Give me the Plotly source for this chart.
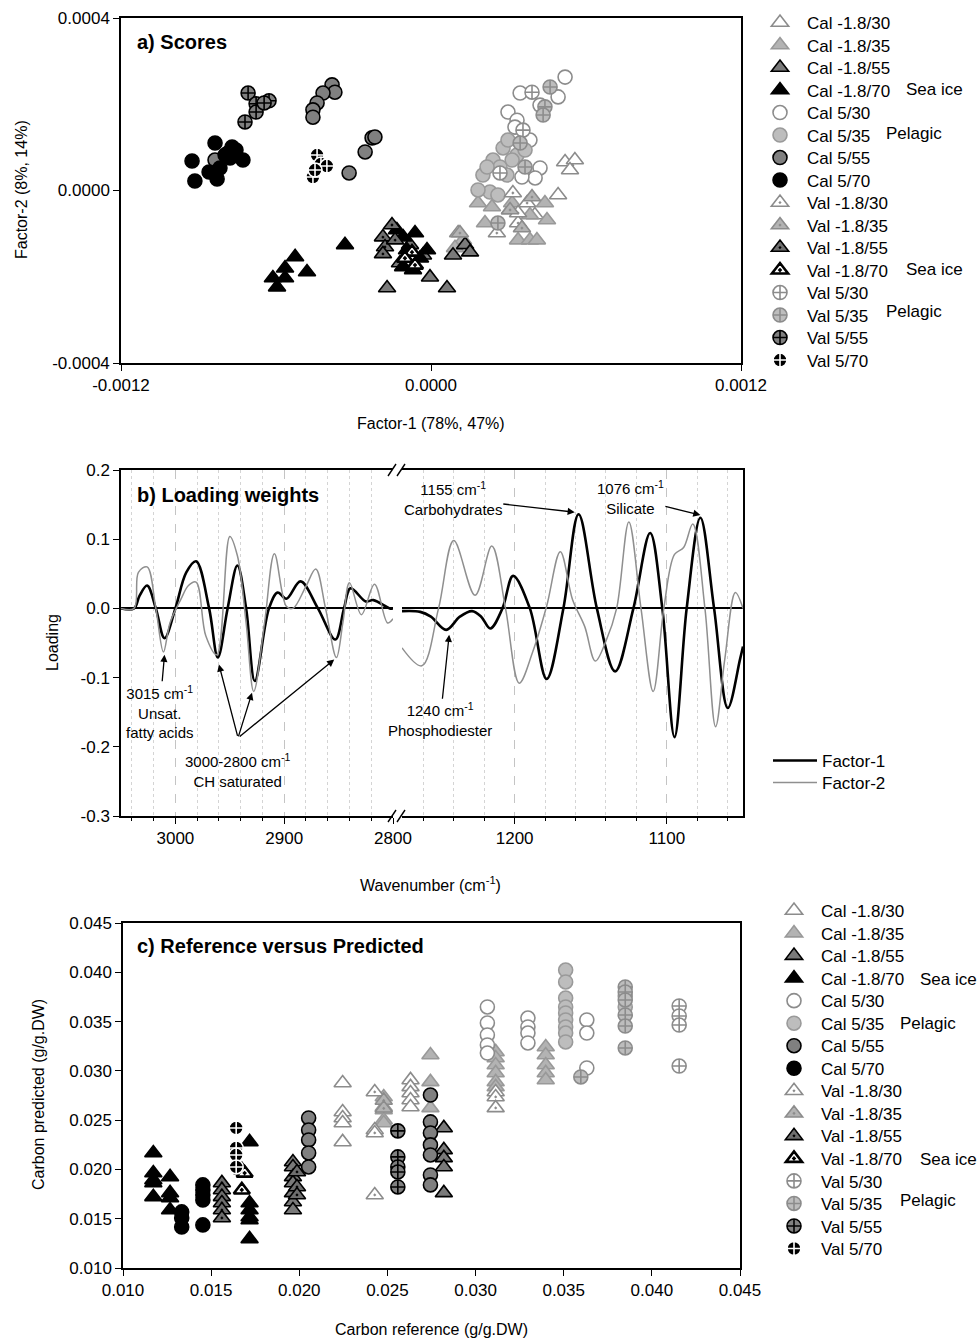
import plotly.graph_objects as go

W, H = 978, 1340
FONT = "Liberation Sans, Arial, sans-serif"

# ---------------- categories ----------------
LABELS = ["Cal -1.8/30", "Cal -1.8/35", "Cal -1.8/55", "Cal -1.8/70",
          "Cal 5/30", "Cal 5/35", "Cal 5/55", "Cal 5/70",
          "Val -1.8/30", "Val -1.8/35", "Val -1.8/55", "Val -1.8/70",
          "Val 5/30", "Val 5/35", "Val 5/55", "Val 5/70"]
SYMBOLS = ["triangle-up", "triangle-up", "triangle-up", "triangle-up",
           "circle", "circle", "circle", "circle",
           "triangle-up-dot", "triangle-up-dot", "triangle-up-dot", "triangle-up-dot",
           "circle-cross", "circle-cross", "circle-cross", "circle-cross"]
FILLS = ["#ffffff", "#b3b3b3", "#7a7a7a", "#000000",
         "#ffffff", "#bdbdbd", "#808080", "#000000",
         "#ffffff", "#b3b3b3", "#6e6e6e", "#ffffff",
         "#ffffff", "#bdbdbd", "#808080", "#000000"]
EDGES = ["#8c8c8c", "#999999", "#000000", "#000000",
         "#8c8c8c", "#9a9a9a", "#000000", "#000000",
         "#8c8c8c", "#8c8c8c", "#000000", "#000000",
         "#8c8c8c", "#8c8c8c", "#000000", "#ffffff"]
EDGE_W = [1.6, 1.6, 1.6, 1.6, 1.6, 1.6, 1.6, 1.6, 1.6, 1.6, 1.6, 2.6, 1.6, 1.6, 1.6, 1.6]
SIZES = [15, 15, 15, 15, 14, 14, 14, 14, 15, 15, 15, 14, 14, 14, 14, 14]

# ---------------- panel a : scores ----------------
A_X = [
    [0.000519, 0.000557, 0.000538, 0.000492, 0.000402, 0.000306],
    [0.000182, 0.000236, 0.000441, 0.000383, 0.000337, 0.000383, 0.000410, 0.000209, 0.000449, 0.000314, 0.000124, 0.0000929],
    [-0.000120, -0.0000039, -0.000170, 0.0000619, 0.0000852, 0.000132, 0.000151, -0.0000310, -0.0000813],
    [-0.000526, -0.000565, -0.000612, -0.000596, -0.000565, -0.000480, -0.000333, -0.000108, -0.0000619, -0.0000929, -0.0000155, -0.000108, -0.0000697, -0.0000426, -0.000132],
    [0.000519, 0.000345, 0.000492, 0.000298, 0.000333, 0.000422, 0.000403, 0.000352, 0.000325, 0.000383, 0.000422],
    [0.000279, 0.000240, 0.000201, 0.000267, 0.000333, 0.000228, 0.000259, 0.000294, 0.000217, 0.000314, 0.000298, 0.000182, 0.000364],
    [-0.000383, -0.000372, -0.000418, -0.000441, -0.000457, -0.000457, -0.000228, -0.000217, -0.000255, -0.000317, -0.000836, -0.000786],
    [-0.000925, -0.000914, -0.000836, -0.000859, -0.000828, -0.000770, -0.000778, -0.000728, -0.000797, -0.000755, -0.000817],
    [0.000105, 0.000317, 0.000372, 0.000337, 0.000255, 0.000337],
    [0.000306, 0.000352, 0.000391, 0.000112],
    [-0.000151, -0.000186, -0.000178, -0.000186, -0.000139],
    [-0.0000735, -0.0000619, -0.000101],
    [0.000391, 0.000356, 0.000267],
    [0.000461, 0.000441, 0.000434, 0.000345, 0.000364, 0.000259],
    [-0.000708, -0.000677, -0.000627, -0.000720, -0.000677, -0.000646],
    [-0.000441, -0.000426, -0.000403, -0.000457, -0.000449],
]
A_Y = [
    [0.0000661, 0.0000707, 0.0000475, -0.0000104, -0.0000568, -0.0000452],
    [-0.0000290, -0.0000383, -0.0000290, -0.0000568, -0.000115, -0.000115, -0.000115, -0.0000754, -0.0000684, -0.0000290, -0.000115, -0.000133],
    [-0.000168, -0.000201, -0.000226, -0.000226, -0.000150, -0.000126, -0.000143, -0.000150, -0.000126],
    [-0.000154, -0.000180, -0.000203, -0.000224, -0.000203, -0.000189, -0.000126, -0.000108, -0.0000986, -0.000138, -0.000138, -0.000177, -0.000184, -0.000157, -0.0000916],
    [0.000263, 0.000226, 0.000217, 0.000182, 0.000163, 0.0000522, 0.0000290, 0.0000313, 0.000147, 0.000117, 0.000198],
    [0.0000986, 0.0000707, 0.0000359, 0.0000545, 0.0000823, -0.0000035, -0.0000104, 0.0000359, 0.0000545, 0.0000707, 0.000117, 0.0000012, 0.0000939],
    [0.000245, 0.000228, 0.000226, 0.000203, 0.000187, 0.000170, 0.000122, 0.000124, 0.0000893, 0.0000406, 0.0000707, 0.0000870],
    [0.0000684, 0.0000220, 0.000110, 0.0000429, 0.0000267, 0.000101, 0.0000754, 0.0000707, 0.0000823, 0.0000939, 0.0000522],
    [-0.0000986, -0.0000058, -0.0000290, -0.0000754, -0.0000986, -0.0000522],
    [-0.0000452, -0.0000870, -0.0000151, -0.0000986],
    [-0.0000800, -0.000108, -0.000131, -0.000147, -0.000115],
    [-0.000143, -0.000173, -0.000157],
    [0.000228, 0.000140, 0.0000406],
    [0.000240, 0.000194, 0.000175, 0.000110, 0.0000545, -0.0000754],
    [0.000226, 0.000201, 0.000208, 0.000159, 0.000182, 0.000203],
    [0.0000823, 0.0000615, 0.0000568, 0.0000313, 0.0000475],
]

# ---------------- panel b : loading weights ----------------
F1_HI_WN = [3050, 3038, 3033, 3026, 3018, 3010, 3000, 2990, 2981, 2969, 2961, 2952, 2943, 2935, 2927,
            2914, 2906, 2898, 2885, 2869, 2853, 2845, 2839, 2825, 2818, 2803, 2800]
F1_HI = [0.0, 0.0, 0.018, 0.033, 0.0, -0.043, 0.0, 0.052, 0.068, 0.0, -0.071, 0.0, 0.062, 0.0, -0.105,
         0.0, 0.023, 0.014, 0.039, 0.0, -0.045, 0.0, 0.029, 0.010, 0.012, 0.0, 0.0]
F2_HI_WN = [3050, 3038, 3034, 3026, 3018, 3011, 3005, 2995, 2988, 2981, 2972, 2962, 2950, 2943, 2935,
            2928, 2918, 2909, 2898, 2892, 2880, 2871, 2862, 2852, 2846, 2840, 2829, 2817, 2805, 2800]
F2_HI = [0.0, 0.0, 0.052, 0.060, 0.0, -0.063, -0.021, 0.013, 0.033, 0.038, -0.040, -0.067, 0.104, 0.076, -0.021,
         -0.120, -0.020, 0.079, 0.003, 0.0, 0.032, 0.057, 0.0, -0.071, -0.020, 0.037, -0.009, 0.035, -0.021, -0.015]
F1_LO_WN = [1274, 1262, 1255, 1245, 1236, 1228, 1222, 1216, 1208, 1201, 1190, 1179, 1168, 1158, 1146, 1134,
            1122, 1111, 1103, 1095, 1087, 1078, 1069, 1060, 1052, 1050]
F1_LO = [-0.004, -0.005, -0.012, -0.031, -0.012, -0.004, -0.012, -0.029, 0.0, 0.047, 0.0, -0.102, 0.0, 0.136, 0.0, -0.091,
         0.0, 0.109, 0.0, -0.186, 0.0, 0.131, 0.0, -0.144, -0.074, -0.055]
F2_LO_WN = [1274, 1261, 1250, 1240, 1226, 1215, 1206, 1197, 1188, 1179, 1170, 1162, 1154, 1147, 1140, 1133,
            1125, 1117, 1109, 1102, 1095, 1089, 1083, 1075, 1068, 1062, 1055, 1050]
F2_LO = [-0.057, -0.083, 0.0, 0.098, 0.019, 0.090, 0.0, -0.108, -0.062, 0.003, 0.082, 0.013, -0.026, -0.076, -0.047, 0.0,
         0.125, 0.0, -0.120, 0.0, 0.078, 0.088, 0.122, 0.0, -0.171, -0.074, 0.023, 0.0]

# ---------------- panel c : reference vs predicted ----------------
C_X = [
    [0.02246, 0.02246, 0.02246, 0.02246, 0.02246, 0.02631, 0.02631, 0.02631, 0.02631, 0.02631],
    [0.02479, 0.02479, 0.02479, 0.02479, 0.02479, 0.02744, 0.02744, 0.02744, 0.03114, 0.03114, 0.03114, 0.03114, 0.03114, 0.03114,
     0.03398, 0.03398, 0.03398, 0.03398, 0.03398],
    [0.01964, 0.01964, 0.01964, 0.01964, 0.01964, 0.01964, 0.01964, 0.02820, 0.02820, 0.02820, 0.02820, 0.02820],
    [0.01172, 0.01172, 0.01172, 0.01172, 0.01172, 0.01267, 0.01267, 0.01267, 0.01267, 0.01718, 0.01718, 0.01718, 0.01718, 0.01718, 0.01718],
    [0.03067, 0.03067, 0.03067, 0.03067, 0.03067, 0.03297, 0.03297, 0.03297, 0.03297, 0.03631, 0.03631, 0.03631],
    [0.03511, 0.03511, 0.03511, 0.03511, 0.03511, 0.03511, 0.03511, 0.03511, 0.03511, 0.03849, 0.03849],
    [0.02053, 0.02053, 0.02053, 0.02053, 0.02053, 0.02744, 0.02744, 0.02744, 0.02744, 0.02744, 0.02744, 0.02744],
    [0.01333, 0.01333, 0.01333, 0.01453, 0.01453, 0.01453, 0.01453, 0.01453],
    [0.02428, 0.02428, 0.02428, 0.02428, 0.03114, 0.03114, 0.03114],
    [0.02479, 0.02479],
    [0.01561, 0.01561, 0.01561, 0.01561, 0.01561, 0.01561, 0.01987, 0.01987, 0.01987],
    [0.01674, 0.01674, 0.01690],
    [0.04155, 0.04155, 0.04155, 0.04155],
    [0.03849, 0.03849, 0.03849, 0.03849, 0.03849, 0.03849, 0.03597],
    [0.02559, 0.02559, 0.02559, 0.02559, 0.02559],
    [0.01642, 0.01642, 0.01642, 0.01642],
]
C_Y = [
    [0.02877, 0.02583, 0.02522, 0.02471, 0.02279, 0.02908, 0.02837, 0.02776, 0.02705, 0.02633],
    [0.02735, 0.02633, 0.02603, 0.02502, 0.02471, 0.03161, 0.02888, 0.02624, 0.03192, 0.03131, 0.03060, 0.02979, 0.02888, 0.02837,
     0.03242, 0.03161, 0.03060, 0.02979, 0.02908],
    [0.02076, 0.02025, 0.01924, 0.01863, 0.01762, 0.01670, 0.01589, 0.02421, 0.02198, 0.02117, 0.02025, 0.01762],
    [0.02167, 0.01964, 0.01893, 0.01863, 0.01722, 0.01924, 0.01762, 0.01711, 0.01589, 0.02279, 0.01660, 0.01589, 0.01518, 0.01488, 0.01295],
    [0.03648, 0.03486, 0.03364, 0.03263, 0.03181, 0.03536, 0.03445, 0.03384, 0.03283, 0.03516, 0.03384, 0.03029],
    [0.04023, 0.03902, 0.03739, 0.03648, 0.03587, 0.03516, 0.03445, 0.03384, 0.03293, 0.03760, 0.03648],
    [0.02522, 0.02400, 0.02299, 0.02167, 0.02025, 0.02755, 0.02482, 0.02370, 0.02249, 0.02147, 0.01944, 0.01843],
    [0.01569, 0.01508, 0.01417, 0.01843, 0.01792, 0.01741, 0.01690, 0.01437],
    [0.02786, 0.02400, 0.02370, 0.01741, 0.02786, 0.02735, 0.02624],
    [0.02700, 0.02620],
    [0.01863, 0.01792, 0.01722, 0.01660, 0.01589, 0.01508, 0.01974, 0.01822, 0.01741],
    [0.01995, 0.01792, 0.01963],
    [0.03658, 0.03557, 0.03465, 0.03049],
    [0.03851, 0.03800, 0.03719, 0.03567, 0.03455, 0.03232, 0.02938],
    [0.02391, 0.02127, 0.02025, 0.01974, 0.01822],
    [0.02421, 0.02218, 0.02147, 0.02025],
]

A_XTICKS = [-0.0012, 0.0, 0.0012]
A_XTEXT = ["-0.0012", "0.0000", "0.0012"]
A_YTICKS = [-0.0004, 0.0, 0.0004]
A_YTEXT = ["-0.0004", "0.0000", "0.0004"]
B_YTICKS = [-0.3, -0.2, -0.1, 0.0, 0.1, 0.2]
B_YTEXT = ["-0.3", "-0.2", "-0.1", "0.0", "0.1", "0.2"]
C_TICKS = [0.010, 0.015, 0.020, 0.025, 0.030, 0.035, 0.040, 0.045]
C_TEXT = ["0.010", "0.015", "0.020", "0.025", "0.030", "0.035", "0.040", "0.045"]


def fx(p):
    return p / W


def fy(p):
    return 1 - p / H


fig = go.Figure()
legends = {}


def leg_id(k):
    return "legend" if k == 1 else "legend%d" % k


def add_legend(k, left_px, row_px, iw=44):
    legends[leg_id(k)] = dict(x=fx(left_px), y=fy(row_px), xanchor="left", yanchor="middle",
                              bgcolor="rgba(0,0,0,0)", borderwidth=0, itemwidth=iw,
                              font=dict(family=FONT, size=17, color="black"))


# panel a traces
for i, lab in enumerate(LABELS):
    k = i + 1
    fig.add_trace(go.Scatter(x=A_X[i], y=A_Y[i], mode="markers", name=lab, xaxis="x", yaxis="y",
                             legend=leg_id(k),
                             marker=dict(symbol=SYMBOLS[i], size=SIZES[i], color=FILLS[i],
                                         line=dict(color=EDGES[i], width=EDGE_W[i]))))
    add_legend(k, 753, 23 + i * 22.5)

# panel b traces
fig.add_trace(go.Scatter(x=F1_HI_WN, y=F1_HI, mode="lines", name="Factor-1", xaxis="x2", yaxis="y2",
                         line=dict(color="black", width=2.6, shape="spline", smoothing=1.0), legend=leg_id(17)))
fig.add_trace(go.Scatter(x=F2_HI_WN, y=F2_HI, mode="lines", name="Factor-2", xaxis="x2", yaxis="y2",
                         line=dict(color="#8f8f8f", width=1.5, shape="spline", smoothing=1.0), legend=leg_id(18)))
fig.add_trace(go.Scatter(x=F1_LO_WN, y=F1_LO, mode="lines", name="Factor-1", xaxis="x3", yaxis="y3",
                         line=dict(color="black", width=2.6, shape="spline", smoothing=1.0), showlegend=False))
fig.add_trace(go.Scatter(x=F2_LO_WN, y=F2_LO, mode="lines", name="Factor-2", xaxis="x3", yaxis="y3",
                         line=dict(color="#8f8f8f", width=1.5, shape="spline", smoothing=1.0), showlegend=False))
add_legend(17, 768, 761)
add_legend(18, 768, 783)

# panel c traces
for i, lab in enumerate(LABELS):
    k = i + 19
    fig.add_trace(go.Scatter(x=C_X[i], y=C_Y[i], mode="markers", name=lab, xaxis="x4", yaxis="y4",
                             legend=leg_id(k),
                             marker=dict(symbol=SYMBOLS[i], size=SIZES[i], color=FILLS[i],
                                         line=dict(color=EDGES[i], width=EDGE_W[i]))))
    add_legend(k, 767, 911 + i * 22.53)

tickfont = dict(family=FONT, size=17, color="black")
base_ax = dict(showgrid=False, zeroline=False, showline=True, linecolor="black", linewidth=1.5,
               ticks="outside", ticklen=6, tickwidth=1.3, tickcolor="black", tickfont=tickfont)

# domains
A_XD = [fx(121), fx(741)]
A_YD = [fy(363), fy(18)]
B_YD = [fy(816), fy(470)]
C_XD = [fx(123), fx(740)]
C_YD = [fy(1268), fy(923)]

grid_major = dict(showgrid=True, gridcolor="#c4c4c4", gridwidth=1, griddash="dash")
minor = dict(dtick=20, tick0=0, ticks="outside", ticklen=3, tickcolor="black", tickwidth=1,
             showgrid=True, gridcolor="#d4d4d4", gridwidth=1, griddash="dot")

fig.update_layout(
    width=W, height=H,
    margin=dict(l=0, r=0, t=0, b=0, autoexpand=False),
    paper_bgcolor="white", plot_bgcolor="white",
    font=dict(family=FONT, size=17, color="black"),
    xaxis=dict(base_ax, domain=A_XD, anchor="y", range=[-0.0012, 0.0012], tickmode="array",
               tickvals=A_XTICKS, ticktext=A_XTEXT, mirror=True),
    yaxis=dict(base_ax, domain=A_YD, anchor="x", range=[-0.0004, 0.0004], tickmode="array",
               tickvals=A_YTICKS, ticktext=A_YTEXT, mirror=True),
    xaxis2=dict(base_ax, **grid_major, domain=[fx(121), fx(393)], anchor="y2", range=[3050, 2800],
                tickmode="linear", tick0=0, dtick=100, mirror=True, minor=minor),
    yaxis2=dict(base_ax, domain=B_YD, anchor="x2", range=[-0.3, 0.2], tickmode="array",
                tickvals=B_YTICKS, ticktext=B_YTEXT, zeroline=True, zerolinecolor="black", zerolinewidth=1.5),
    xaxis3=dict(base_ax, **grid_major, domain=[fx(402), fx(743)], anchor="y3", range=[1274, 1050],
                tickmode="linear", tick0=0, dtick=100, mirror=True, minor=minor),
    yaxis3=dict(showline=True, linecolor="black", linewidth=1.5, domain=B_YD, anchor="x3",
                matches="y2", side="right", showticklabels=False, ticks="", showgrid=False,
                zeroline=True, zerolinecolor="black", zerolinewidth=1.5, range=[-0.3, 0.2]),
    xaxis4=dict(base_ax, domain=C_XD, anchor="y4", range=[0.010, 0.045], tickmode="array",
                tickvals=C_TICKS, ticktext=C_TEXT, mirror=True),
    yaxis4=dict(base_ax, domain=C_YD, anchor="x4", range=[0.010, 0.045], tickmode="array",
                tickvals=C_TICKS, ticktext=C_TEXT, mirror=True),
    **legends,
)

ann = []


def text_ann(txt, x, y, size=17, bold=False, xanchor="center", angle=0):
    t = "<b>%s</b>" % txt if bold else txt
    ann.append(dict(text=t, x=fx(x), y=fy(y), xref="paper", yref="paper", showarrow=False,
                    xanchor=xanchor, yanchor="middle", textangle=angle,
                    font=dict(family=FONT, size=size, color="black")))


# panel titles
text_ann("a) Scores", 135, 42, size=20, bold=True, xanchor="left")
text_ann("b) Loading weights", 135, 495, size=20, bold=True, xanchor="left")
text_ann("c) Reference versus Predicted", 135, 946, size=20, bold=True, xanchor="left")
# axis titles
text_ann("Factor-1 (78%, 47%)", 431, 423, size=16)
text_ann("Factor-2 (8%, 14%)", 22, 190, size=16, angle=-90)
text_ann("Loading", 52, 643, size=16, angle=-90)
text_ann("Wavenumber (cm<sup>-1</sup>)", 430, 884, size=16)
text_ann("Carbon reference (g/g.DW)", 431, 1329, size=16)
text_ann("Carbon predicted (g/g.DW)", 38, 1095, size=16, angle=-90)
# group labels
for (t, x, y) in [("Sea ice", 904, 89), ("Pelagic", 884, 134), ("Sea ice", 904, 269), ("Pelagic", 884, 311),
                  ("Sea ice", 918, 979), ("Pelagic", 898, 1023), ("Sea ice", 918, 1159), ("Pelagic", 898, 1200)]:
    text_ann(t, x, y, size=17, xanchor="left")

# labelled arrows (head at the data point, label at the tail offset in pixels)
arrow_style = dict(showarrow=True, arrowhead=2, arrowsize=1.1, arrowwidth=1.3, arrowcolor="black")
for (txt, xr, yr, x, y, ax, ay) in [
        ("3015 cm<sup>-1</sup><br>Unsat.<br>fatty acids", "x2", "y2", 3010, -0.067, -5, 57),
        ("1240 cm<sup>-1</sup><br>Phosphodiester", "x3", "y3", 1243, -0.038, -9, 85),
        ("1155 cm<sup>-1</sup><br>Carbohydrates", "x3", "y3", 1160.5, 0.139, -122, -14),
        ("1076 cm<sup>-1</sup><br>Silicate", "x3", "y3", 1078, 0.135, -70, -17)]:
    ann.append(dict(arrow_style, text=txt, x=x, y=y, xref=xr, yref=yr, ax=ax, ay=ay,
                    font=dict(family=FONT, size=15, color="black")))
# CH saturated: one label, three arrows from a common apex
text_ann("3000-2800 cm<sup>-1</sup><br>CH saturated", 237, 770, size=15)
for (x, y, ax, ay) in [(2960, -0.081, 19, 73), (2929.6, -0.122, -14, 45), (2854, -0.074, -96, 78)]:
    ann.append(dict(arrow_style, text="", x=x, y=y, xref="x2", yref="y2", ax=ax, ay=ay))

fig.update_layout(annotations=ann)

# axis-break marks
shapes = []
for ytop in (464, 810):
    for x0 in (388, 397):
        shapes.append(dict(type="line", xref="paper", yref="paper", x0=fx(x0), y0=fy(ytop + 12),
                           x1=fx(x0 + 8), y1=fy(ytop), line=dict(color="black", width=1.4)))
fig.update_layout(shapes=shapes)

fig.write_html("out.html")
